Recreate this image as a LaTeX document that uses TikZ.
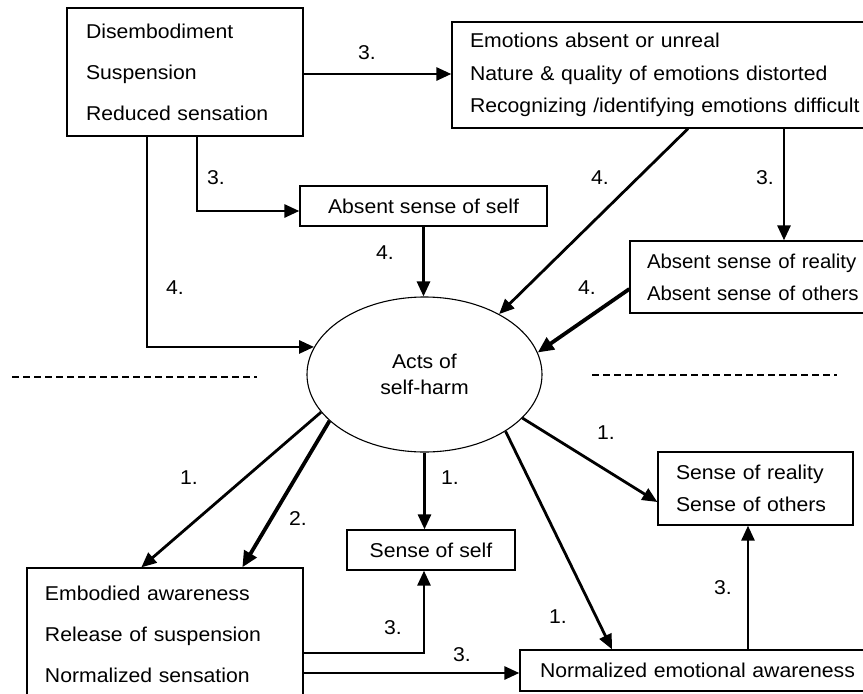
\documentclass[tikz,border=0pt]{standalone}
\usepackage{fontspec}
\setmainfont{Liberation Sans}[FakeStretch=1.06]
\newfontfamily\narrowfont{Liberation Sans}[FakeStretch=1.02]
\usetikzlibrary{arrows.meta,shapes.geometric}
\begin{document}
\begin{tikzpicture}[x=1pt,y=-1pt,
  box/.style={draw,line width=1.3pt,rectangle,inner ysep=0pt,align=left},
  cbox/.style={draw,line width=1.3pt,rectangle,inner sep=0pt,align=center,font=\fontsize{20}{24}\selectfont},
  arr/.style={line width=2.8pt,-{Triangle[length=15pt,width=13pt]}},
  thick arr/.style={line width=3.8pt,-{Triangle[length=16pt,width=14pt]}},
  lbl/.style={inner sep=0pt,font=\fontsize{20}{24}\selectfont},
  dashline/.style={line width=1.6pt,dash pattern=on 7pt off 4pt}]
\useasboundingbox (0,0) rectangle (863,694);
\clip (0,0) rectangle (863,694);

% boxes
\node[box,font=\fontsize{20}{41}\selectfont,text width=198pt,inner xsep=19pt,minimum height=128pt]
  (b1) at (185,72) {Disembodiment\\Suspension\\Reduced sensation};
\node[box,font=\fontsize{20}{32.5}\selectfont,text width=392pt,inner xsep=18pt,minimum height=106pt]
  (b2) at (666,75) {Emotions absent or unreal\\Nature \& quality of emotions distorted\\Recognizing /identifying emotions difficult};
\node[cbox,minimum width=247pt,minimum height=40pt] (absself) at (423.5,206) {Absent sense of self};
\node[box,font=\narrowfont\fontsize{20}{32}\selectfont,text width=250pt,inner xsep=17pt,minimum height=72pt]
  (absreal) at (772,277) {Absent sense of reality\\Absent sense of others};
\node[draw,ellipse,line width=1.1pt,inner sep=0pt,minimum width=235pt,minimum height=155pt,
  align=center,font=\fontsize{20}{26}\selectfont] (ell) at (424.5,374.5) {Acts of\\self-harm};
\node[box,font=\fontsize{20}{32}\selectfont,text width=159pt,inner xsep=18pt,minimum height=73pt]
  (real) at (755.5,488.5) {Sense of reality\\Sense of others};
\node[cbox,minimum width=168pt,minimum height=40pt] (self) at (431,550) {Sense of self};
\node[box,font=\fontsize{20}{41}\selectfont,text width=240pt,inner xsep=18pt,minimum height=132pt]
  (b3) at (165,634) {Embodied awareness\\Release of suspension\\Normalized sensation};
\node[box,font=\fontsize{20}{24}\selectfont,text width=320pt,inner xsep=20pt,minimum height=41pt]
  (norm) at (700,670.5) {Normalized emotional awareness};

% dashed separators
\draw[dashline] (12,377) -- (257,377);
\draw[dashline] (592,375) -- (837,375);

% upper connectors
\draw[arr] (b1.east |- 0,74) -- (b2.west |- 0,74);
\draw[arr] (147,0 |- b1.south) |- (ell.166.5);
\draw[arr] (197,0 |- b1.south) |- ([yshift=-5pt]absself.west);
\draw[arr] (absself.south) -- (absself.south |- ell.north);
\draw[arr] (688,0 |- b2.south) -- (ell.39);
\draw[arr] (784,0 |- b2.south) -- (784,0 |- absreal.north);
\draw[thick arr] ([yshift=-12pt]absreal.west) -- (ell.11.2);

% lower connectors
\draw[arr] (ell.-160.6) -- ([xshift=115pt]b3.north west);
\draw[thick arr] (ell.-154.8) -- ([xshift=216pt]b3.north west);
\draw[arr] (ell.south) -- (ell.south |- self.north);
\draw[arr] (ell.-24) -- ([yshift=-13.5pt]real.west);
\draw[arr] (ell.-35.9) -- (612,0 |- norm.north);
\draw[arr] (b3.east |- 0,653) -| ([xshift=-7pt]self.south);
\draw[arr] (b3.east |- 0,673) -- (norm.west |- 0,673);
\draw[arr] (748,0 |- norm.north) -- (748,0 |- real.south);

% labels
\node[lbl] (t1) at (367,53) {3.};
\node[lbl] (t2) at (216,178) {3.};
\node[lbl] (t3) at (385,253) {4.};
\node[lbl] (t4) at (175,288) {4.};
\node[lbl] (t5) at (600,178) {4.};
\node[lbl] (t6) at (765,178) {3.};
\node[lbl] (t7) at (587,288) {4.};
\node[lbl] (t8) at (189,478) {1.};
\node[lbl] (t9) at (298,519) {2.};
\node[lbl] (t10) at (450,478) {1.};
\node[lbl] (t11) at (606,433) {1.};
\node[lbl] (t12) at (558,617) {1.};
\node[lbl] (t13) at (723,588) {3.};
\node[lbl] (t14) at (393,628) {3.};
\node[lbl] (t15) at (462,655) {3.};
\end{tikzpicture}
\end{document}
